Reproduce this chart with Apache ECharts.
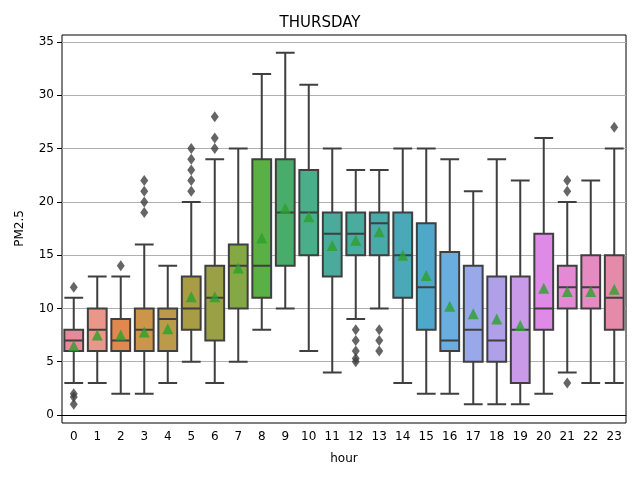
<!DOCTYPE html>
<html>
<head>
<meta charset="utf-8">
<script src="https://cdn.jsdelivr.net/npm/echarts@6/dist/echarts.min.js"></script>
<style>html,body{margin:0;padding:0;background:#fff}#c{width:640px;height:480px}</style>
</head>
<body>
<div id="c"></div>
<script>
// hour categories
const hours = Array.from({ length: 24 }, (_, i) => String(i))

// [min, Q1, median, Q3, max] per hour
const boxes = [
    [3, 6, 7, 8, 11], [3, 6, 8, 10, 13], [2, 6, 7, 9, 13], [2, 6, 8, 10, 16],
    [3, 6, 9, 10, 14], [5, 8, 10, 13, 20], [3, 7, 11, 14, 24], [5, 10, 14, 16, 25],
    [8, 11, 14, 24, 32], [10, 14, 19, 24, 34], [6, 15, 19, 23, 31], [4, 13, 17, 19, 25],
    [9, 15, 17, 19, 23], [10, 15, 18, 19, 23], [3, 11, 15, 19, 25], [2, 8, 12, 18, 25],
    [2, 6, 7, 15.3, 24], [1, 5, 8, 14, 21], [1, 5, 7, 13, 24], [1, 3, 8, 13, 22],
    [2, 8, 10, 17, 26], [4, 10, 12, 14, 20], [3, 10, 12, 15, 22], [3, 8, 11, 15, 25]
]

const means = [6.5, 7.5, 7.5, 7.8, 8.1, 11.1, 11.1, 13.8, 16.6, 19.4, 18.6, 15.9,
    16.4, 17.2, 15.0, 13.1, 10.2, 9.5, 9.0, 8.4, 11.9, 11.6, 11.6, 11.8]

// [hour, value]
const outliers = [
    [0, 12], [0, 2], [0, 1.7], [0, 1],
    [2, 14],
    [3, 19], [3, 20], [3, 21], [3, 22],
    [5, 21], [5, 22], [5, 23], [5, 24], [5, 25],
    [6, 25], [6, 26], [6, 28],
    [12, 8], [12, 7], [12, 6], [12, 5.3], [12, 5],
    [13, 8], [13, 7], [13, 6],
    [21, 21], [21, 22], [21, 3],
    [23, 27]
]

const colors = ["#e8899a", "#e8978a", "#e0894f", "#cc954a", "#b99b4a", "#a89c45",
    "#9aa145", "#84a844", "#5caf45", "#48ad6a", "#49ae8a", "#4aab9c",
    "#4aab9f", "#4aaaa8", "#4ba8b8", "#4fa8cc", "#6aaee0", "#98a8e8",
    "#b0a0e8", "#c99ae8", "#e08ae8", "#e48ad4", "#e68ac2", "#e58aa8"]

const chart = echarts.init(document.getElementById("c"))
const font = "DejaVu Sans"
chart.setOption({
    animation: false,
    textStyle: { fontFamily: font },
    title: { text: "THURSDAY", left: "center", top: 11, textStyle: { fontFamily: font, fontSize: 15, fontWeight: "normal", color: "#000" } },
    grid: [
        { left: 62, right: 14, top: 35, bottom: 57, show: true, borderColor: "#000", borderWidth: 1 },
        { left: 62, right: 14, top: 42, bottom: 65 }
    ],
    xAxis: [
        {
            type: "category", data: hours, gridIndex: 0, name: "hour", nameLocation: "middle", nameGap: 30,
            nameTextStyle: { color: "#000", fontSize: 12, fontFamily: font },
            axisLine: { lineStyle: { color: "#000" } },
            axisTick: { alignWithLabel: true, lineStyle: { color: "#000" } },
            axisLabel: { color: "#000", fontSize: 12, interval: 0 }
        },
        { type: "category", data: hours, gridIndex: 1, show: false }
    ],
    yAxis: [
        { type: "value", gridIndex: 0, min: -0.75, max: 35.66, show: false },
        {
            type: "value", gridIndex: 1, min: 0, max: 35, interval: 5,
            name: "PM2.5", nameLocation: "middle", nameGap: 36,
            nameTextStyle: { color: "#000", fontSize: 12, fontFamily: font },
            axisLine: { show: false },
            axisTick: { show: true, lineStyle: { color: "#000" } },
            axisLabel: { color: "#000", fontSize: 12 },
            splitLine: { lineStyle: { color: "#b0b0b0", width: 1 } }
        }
    ],
    series: [
        {
            type: "boxplot", xAxisIndex: 0, yAxisIndex: 0, boxWidth: ["80%", "80%"],
            data: boxes.map((b, i) => ({ value: b, itemStyle: { color: colors[i], borderColor: "#3f3f3f", borderWidth: 2 } }))
        },
        {
            type: "scatter", xAxisIndex: 0, yAxisIndex: 0, symbol: "diamond", symbolSize: [8, 11],
            itemStyle: { color: "#3f3f3f" }, data: outliers.map(o => [String(o[0]), o[1]])
        },
        {
            type: "scatter", xAxisIndex: 0, yAxisIndex: 0, symbol: "triangle", symbolSize: 11,
            itemStyle: { color: "#2ca02c" }, z: 5, data: means.map((m, i) => [hours[i], m])
        }
    ]
})
</script>
</body>
</html>
